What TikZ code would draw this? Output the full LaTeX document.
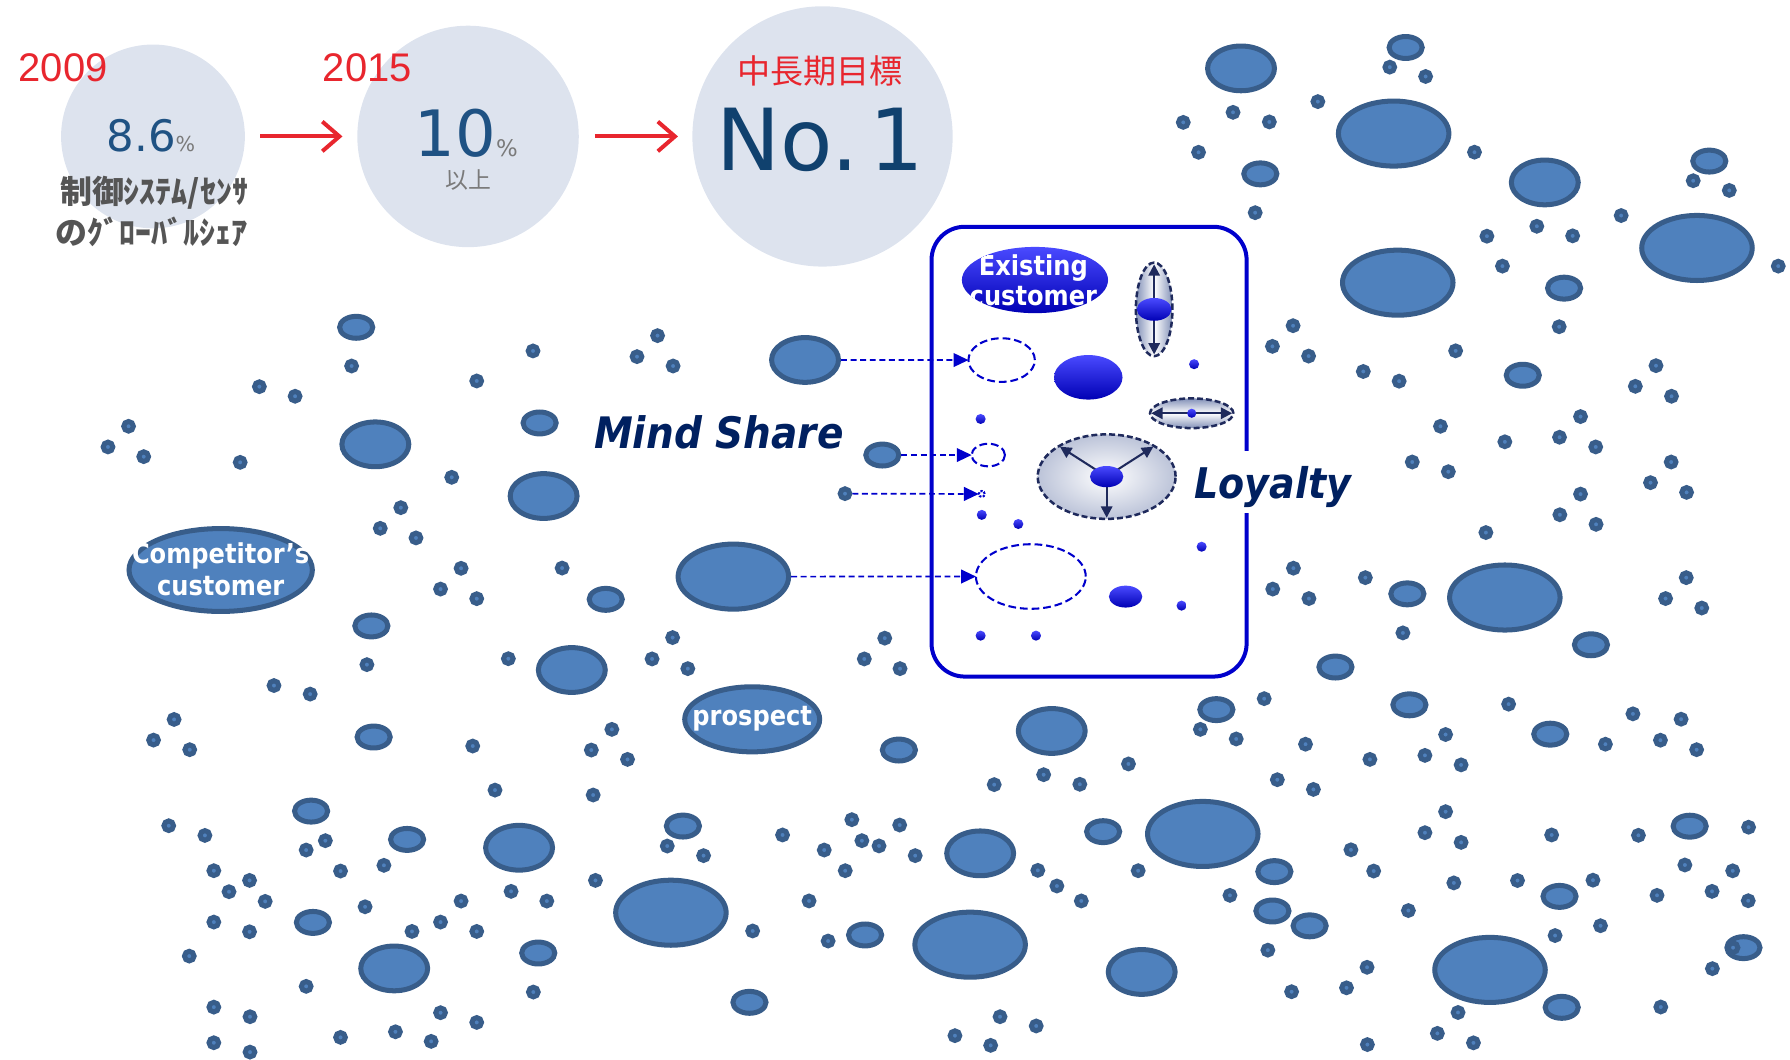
\documentclass[tikz,border=0pt]{standalone}
\usepackage{fontspec}
\setmainfont{DejaVu Sans}
\newfontfamily\lblfont[FakeStretch=0.88]{DejaVu Sans}
\newfontfamily\headfont[FakeStretch=0.9]{DejaVu Sans}
\newfontfamily\numfont{DejaVu Sans}
\newfontfamily\yearfont{Liberation Sans}
\newfontfamily\jpfont{Noto Sans CJK JP}
\usetikzlibrary{arrows.meta,shapes.geometric}

\definecolor{bubfill}{HTML}{4F81BD}
\definecolor{bubline}{HTML}{385D8A}
\definecolor{boxblue}{HTML}{0000CC}
\definecolor{navytext}{HTML}{002060}
\definecolor{ringline}{HTML}{1F2A5C}
\definecolor{ringedge}{HTML}{8391B8}
\definecolor{yearred}{HTML}{E8262E}
\definecolor{numblue}{HTML}{1F5283}
\definecolor{numdark}{HTML}{10416E}
\definecolor{pctgray}{HTML}{7A7A7A}
\definecolor{jpgray}{HTML}{555555}
\definecolor{goalfill}{HTML}{DDE3EE}
\definecolor{glosstop}{HTML}{4A4AFF}
\definecolor{glossmid}{HTML}{0A0AD8}
\definecolor{glossbot}{HTML}{0000B4}

\begin{document}
\begin{tikzpicture}[x=0.5pt,y=-0.5pt,
  bub/.style={fill=bubfill, draw=bubline, line width=2.2pt},
  bubnode/.style={ellipse, fill=bubfill, draw=bubline, line width=2.2pt, inner sep=0pt, outer sep=0pt},
  goal/.style={circle, fill=goalfill, inner sep=0pt, outer sep=0pt},
  redarrow/.style={draw=yearred, line width=1.75pt, -{Straight Barb[length=7.5pt,width=13pt]}},
  lbl/.style={text=white, inner sep=0pt, font=\lblfont\bfseries\fontsize{12}{12}\selectfont},
  tgt/.style={ellipse, draw=boxblue, line width=0.9pt, dash pattern=on 3.4pt off 1.7pt, inner sep=0pt, outer sep=0pt},
  conn/.style={draw=boxblue, line width=0.75pt, dash pattern=on 2.6pt off 1.6pt, -{Triangle[length=6.5pt,width=6pt]}},
  ringline/.style={draw=ringline, line width=1.1pt, dash pattern=on 2.6pt off 1.3pt},
  navyarrow/.style={draw=ringline, line width=0.9pt, -{Triangle[length=5pt,width=5pt]}},
  gloss/.style={top color=glosstop, middle color=glossmid, bottom color=glossbot},
  title/.style={inner sep=0pt, text=navytext, font=\headfont\bfseries\itshape\fontsize{19}{19}\selectfont}]

\useasboundingbox (0,0) rectangle (1568,928);

% ---- share targets ----
\node[goal, minimum size=80.5pt] (c1) at (134,119.5) {};
\node[goal, minimum size=97pt] (c2) at (410,119.5) {};
\node[goal, minimum size=114pt] (c3) at (720.5,119.5) {};
\draw[redarrow, shorten <=6.7pt, shorten >=6.5pt] (c1) -- (c2);
\draw[redarrow, shorten <=7pt, shorten >=6.3pt] (c2) -- (c3);

\node[anchor=base, inner sep=0pt, text=yearred, font=\yearfont\fontsize{17.5}{17.5}\selectfont] (y1) at (55.2,71.5) {2009};
\node[anchor=base, inner sep=0pt, text=yearred, font=\yearfont\fontsize{17.5}{17.5}\selectfont] (y2) at (321.8,71.5) {2015};
\node[anchor=base west, inner sep=0pt, text=numblue, font=\numfont\fontsize{19}{19}\selectfont] (v1) at (93,132.9)
  {8.6{\fontsize{9}{9}\selectfont\color{pctgray}\%}};
\node[text=jpgray, font=\jpfont\bfseries\fontsize{14}{14}\selectfont] (share1) at (135,168.6) {制御ｼｽﾃﾑ/ｾﾝｻ};
\node[text=jpgray, font=\jpfont\bfseries\fontsize{14}{14}\selectfont] (share2) at (132.5,203) {のｸﾞﾛｰﾊﾞﾙｼｪｱ};
\node[anchor=base west, inner sep=0pt, text=numblue, font=\numfont\fontsize{28}{28}\selectfont] (v2) at (363,137.2)
  {10{\fontsize{10}{10}\selectfont\color{pctgray}\%}};
\node[inner sep=0pt, text=pctgray, font=\jpfont\fontsize{10}{10}\selectfont] (v2b) at (410.6,157.7) {以上};
\node[inner sep=0pt, text=yearred, font=\jpfont\fontsize{14.5}{14.5}\selectfont] (midterm) at (718.5,62) {中長期目標};
\node[anchor=base west, inner sep=0pt, text=numdark, font=\numfont\fontsize{37.5}{37.5}\selectfont] (v3) at (627,149.5) {No.\kern5pt1};

% ---- market field: small dots ----
\foreach \x/\y in {308/320.6, 227.2/338.7, 258.5/347.1, 112.6/373.4, 94.6/391.5, 125.9/400, 210.4/405,
  417.6/333.7, 466.9/307.4, 576/294, 558/312.4, 589.6/320.6, 395.7/418.1, 351.1/444.7, 333.1/462.8,
  364.4/471.2, 403.9/497.8, 385.9/516, 417.6/524.4, 492.4/497.6, 321.4/582.2, 445.3/577, 589.2/558.5,
  571.2/577.2, 602.5/585.7, 240/600.5, 271.7/608,
  152.5/630.2, 134.5/648.3, 166.2/656.7, 414.1/653.5, 536/638.9, 518/657, 549.7/665.2, 433.6/692.1,
  519.6/696.4, 147.8/723.3, 179.5/731.8, 285/736.4, 268.2/744.6, 584.5/741.1, 616.3/749.5, 298.3/763,
  336.3/758, 187.3/762.7, 218.6/771.2, 200.6/781.1, 232.3/789.6, 521.6/771.2, 447.7/780.8, 479/789.3,
  403.9/789.3, 319.8/794.3, 187.3/807.7, 218.6/816.2, 360.9/815.9, 385.9/807.7, 417.6/815.9, 165.8/837.5,
  268.2/864, 467.2/869, 187.3/882.2, 219/890.6, 385.9/887.1, 417.6/895.6, 187.3/913.4, 219/921.6,
  298.3/908.7, 346.4/903.8, 377.7/912.2,
  775/559, 757.1/577.2, 788.4/585.7, 1051.5/638.9, 1082.9/647.3, 1107.4/612, 988.5/669.2, 1118.9/683,
  870.9/687.3, 914.2/678.6, 945.9/687, 685.5/731.4, 746.2/718, 788.1/722.7, 755/736.4, 770/741,
  722/744.6, 801.7/749.5, 740.4/762.7, 909.1/762.4, 925.8/776.1, 947.2/789.2, 997/762.7, 1077.4/784.3,
  1110.6/832.3, 1131.4/868.7, 708.7/789.2, 659.3/815.5, 725.4/824.3, 876/890.6, 907.7/898.7,
  836.5/907.2, 867.8/915.7,
  1080.1/98.4, 1036.5/107.2, 1049.9/133.4, 1099.5/186.3, 1217.4/58.8, 1248.8/67, 1154.4/89,
  1111.9/106.8, 1291.6/133.3, 1483.2/158.3, 1514.8/166.8, 1420.1/188.8, 1557.7/233.1, 1346.2/198.2,
  1302.5/206.9, 1377.6/206.6, 1316.1/233.1, 1365.8/286.2, 1132.7/285.3, 1114.6/303.4, 1146.3/311.9,
  1275.1/307.3, 1194.2/325.4, 1225.6/333.9, 1450.6/320.3, 1432.5/338.4, 1464.2/347.1, 1261.8/373.4,
  1318.2/387, 1366.1/383, 1384.5/364.9, 1397.8/391.5, 1237.1/404.7, 1268.7/413.2, 1463.9/404.7,
  1445.8/422.8, 1477.4/431.3, 1384.5/432.8, 1366.4/450.9, 1398.1/459.3, 1301.6/466.5,
  1133/497.7, 1114.9/516, 1146.6/524.3, 1196/506, 1477.1/506, 1459/524.3, 1490.7/532.6, 1228.9/554.4,
  1321.5/616.8, 1430.4/625.3, 1472.6/630, 1454.5/648.4, 1486.2/656.7, 1406.3/651.9, 1266.3/643.4,
  1248.2/661.7, 1279.9/670, 1143.6/651.9, 1200/665.2, 1150.5/691.5, 1266.3/711, 1248.2/729.4,
  1279.9/737.9, 1359.2/731.4, 1435.2/731.7, 1531.7/724.6, 1183.4/744.4, 1203.3/763, 1273.5/773.4,
  1329.3/771.3, 1395.4/771, 1475.9/757.7, 1517.8/762.8, 1451.5/784.3, 1499.7/780.8, 1531.4/789,
  1233.7/797.6, 1402/810.9, 1362.2/819.5, 1197.5/847.3, 1179.5/865.3, 1500/848.5, 1454.8/882.1,
  1277.2/886.9, 1259.1/905.2, 1290.7/913.5, 1197.8/915}
  \draw[bub] (\x,\y) circle[radius=2.1pt];

% ---- small bubbles ----
\foreach \x/\y in {312/286.7, 472.7/370.5, 530.6/525, 325.3/548.3, 327.3/645.6, 272.5/710.5, 356.6/735.3,
  598.2/723.6, 274.1/808, 471.5/834.8, 787.4/657, 1065.5/621.6, 966.3/728.5, 1116.3/763.5, 1114.6/798,
  1147.2/811, 757.8/819, 656.5/878, 1231.3/41.6, 1104/152.3, 1497.3/141.1, 1370.1/252.4, 1333.9/328.7,
  1232.8/520.2, 1393.6/564.8, 1169.8/584.3, 1234.6/617.4, 1358/643.1, 1480.1/723.7, 1366.1/785.2,
  1527.2/830.1, 1368/882.4}
  \draw[bub] (\x,\y) ellipse[x radius=7.25pt, y radius=4.8pt];
\draw[bub] (1518.1,830.1) circle[radius=2.1pt];

% ---- medium bubbles ----
\foreach \x/\y in {328.8/389.2, 476.2/434.5, 500.9/586.9, 454.7/742.6, 345.3/848.3, 921.3/640.3,
  858.6/747.5, 1000.1/851.4, 1087.1/59.9, 1353.2/159.8}
  \draw[bub] (\x,\y) ellipse[x radius=14.65pt, y radius=9.8pt];

% ---- large bubbles ----
\foreach \x/\y in {587.7/799.5, 1053.6/730.5, 849.8/827.5, 1220.8/117, 1486.5/217.2, 1224.4/247.6,
  1318.2/523.4, 1305.2/849.6}
  \draw[bub] (\x,\y) ellipse[x radius=24.2pt, y radius=14.25pt];

% ---- labelled bubbles ----
\node[bubnode, minimum width=80.3pt, minimum height=36.3pt] (comp) at (193.3,499.3) {};
\node[lbl, anchor=base] (comp1) at (193.3,494) {Competitor’s};
\node[lbl, anchor=base] (comp2) at (193.3,521.2) {customer};
\node[bubnode, minimum width=59.1pt, minimum height=28.5pt] (prosp) at (658.9,630.1) {};
\node[lbl, anchor=base] (prosp1) at (658.9,635.1) {prospect};

% ---- bubbles that lead into the loyalty box ----
\node[bubnode, minimum width=29.3pt, minimum height=19.6pt] (srcA) at (705.2,315.3) {};
\node[bubnode, minimum width=14.5pt, minimum height=9.6pt] (srcB) at (772.9,398.6) {};
\node[bubnode, minimum width=4.2pt, minimum height=4.2pt] (srcC) at (740.2,432.4) {};
\node[bubnode, minimum width=48.4pt, minimum height=28.5pt] (srcD) at (642.4,505.1) {};

% ---- loyalty box ----
\node[draw=boxblue, line width=1.75pt, rounded corners=14.5pt, minimum width=138pt,
  minimum height=197pt, inner sep=0pt, outer sep=0pt] (box) at (954,395.65) {};

% existing customer
\shade[gloss] (906.6,245.3) ellipse[x radius=32pt, y radius=14.5pt];
\begin{scope}
  \clip (906.6,245.3) ellipse[x radius=32pt, y radius=14.5pt];
  \node[lbl, anchor=base] (ex1) at (905.2,240.9) {Existing};
  \node[lbl, anchor=base] (ex2) at (905.2,267.2) {customer};
\end{scope}

% solid customers
\shade[gloss] (953.3,330.5) ellipse[x radius=15pt, y radius=9.75pt];
\shade[gloss] (986,522.6) ellipse[x radius=7.3pt, y radius=4.8pt];
\foreach \x/\y in {1046/319, 859/367, 860/451, 892/459, 1052.6/478.9, 1035/530.5, 859/556.8, 907.5/556.8}
  \shade[gloss] (\x,\y) circle[radius=2.2pt];

% vertical growth
\shade[left color=ringedge, right color=ringedge, middle color=white] (1011,271) ellipse[x radius=8pt, y radius=20.5pt];
\draw[ringline] (1011,271) ellipse[x radius=8pt, y radius=20.5pt];
\draw[navyarrow] (1011,271) -- (1011,231.5);
\draw[navyarrow] (1011,271) -- (1011,310.5);
\shade[gloss] (1011,271) ellipse[x radius=7.6pt, y radius=5pt];

% horizontal growth
\shade[top color=ringedge, bottom color=ringedge, middle color=white] (1043.9,362) ellipse[x radius=18.25pt, y radius=6.5pt];
\draw[ringline] (1043.9,362) ellipse[x radius=18.25pt, y radius=6.5pt];
\draw[navyarrow] (1043.9,362) -- (1008.4,362);
\draw[navyarrow] (1043.9,362) -- (1079.4,362);
\shade[gloss] (1043.9,362) circle[radius=2pt];

% all-round growth
\begin{scope}
  \clip (969.4,417.5) ellipse[x radius=30.2pt, y radius=18.5pt];
  \shade[inner color=white, outer color=ringedge] (969.4,417.5) ellipse[x radius=56pt, y radius=34pt];
\end{scope}
\draw[ringline] (969.4,417.5) ellipse[x radius=30.2pt, y radius=18.5pt];
\draw[navyarrow] (969.4,417.5) -- (928.5,391.3);
\draw[navyarrow] (969.4,417.5) -- (1010.3,391.3);
\draw[navyarrow] (969.4,417.5) -- (969.4,453.5);
\shade[gloss] (969.4,417.5) ellipse[x radius=7.3pt, y radius=4.65pt];

% new customers won from the field
\node[tgt, minimum width=29.1pt, minimum height=19.1pt] (tA) at (877.4,315.4) {};
\node[tgt, minimum width=14.6pt, minimum height=9.9pt] (tB) at (865.7,398.6) {};
\node[tgt, minimum width=2.6pt, minimum height=2.6pt, dash pattern=on 1pt off 0.6pt] (tC) at (860,432.7) {};
\node[tgt, minimum width=48.1pt, minimum height=28.3pt] (tD) at (903,505) {};

\draw[conn, shorten <=1.1pt] (srcA.east) -- (tA.west);
\draw[conn, shorten <=1.1pt] (srcB.east) -- (tB.west);
\draw[conn, shorten <=1.1pt] (srcC.east) -- (tC.west);
\draw[conn, shorten <=1.1pt] (srcD.east) -- (tD.west);

% headings
\node[title, anchor=base west] (mind) at (520,392.7) {Mind Share};
\fill[white] (1085,395) rectangle (1100,449);
\node[title, anchor=base west, font=\headfont\bfseries\itshape\fontsize{18.5}{18.5}\selectfont] (loyal) at (1046,436.5) {Loyalty};

\end{tikzpicture}
\end{document}
